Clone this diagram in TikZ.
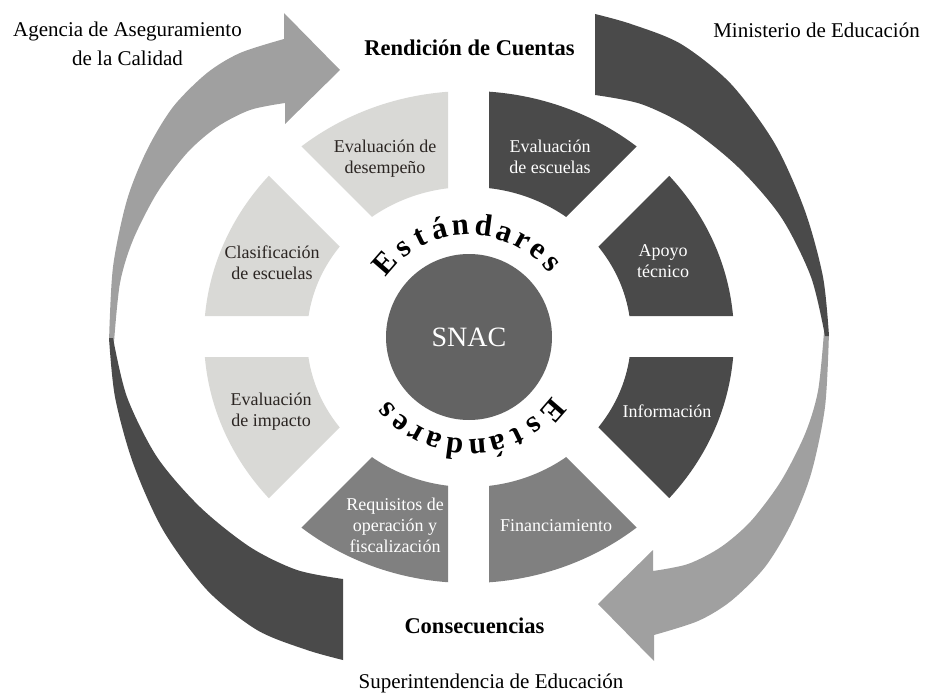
\documentclass[tikz,border=0pt]{standalone}
\usepackage{fontspec}
\setmainfont{Liberation Serif}
\definecolor{segLight}{HTML}{D9D9D6}
\definecolor{segDark}{HTML}{4A4A4A}
\definecolor{segMid}{HTML}{808080}
\definecolor{hubGray}{HTML}{636363}
\definecolor{arrowLight}{HTML}{A0A0A0}
\definecolor{arrowDark}{HTML}{4A4A4A}
\definecolor{inkDark}{HTML}{2B2522}
\begin{document}
\begin{tikzpicture}[x=1pt,y=-1pt,
  titletext/.style={font=\fontsize{21}{29}\selectfont, text=black, inner sep=0pt, align=center},
  boldtitle/.style={font=\bfseries\fontsize{22.5}{27}\selectfont, text=black, inner sep=0pt},
  seglabel/.style={font=\fontsize{18}{21}\selectfont, align=center, inner sep=0pt},
  onlight/.style={seglabel, text=inkDark},
  ondark/.style={seglabel, text=white},
  letterstyle/.style={font=\bfseries\fontsize{31}{31}\selectfont, text=black, anchor=base, inner sep=0pt},
  ring/.style={even odd rule}
]
\useasboundingbox (0,0) rectangle (927,693);
\coordinate (C) at (469,337);

% ---- big curved arrows (left side) ----
\fill[arrowLight]
  plot[smooth] coordinates {(109,342) (113,267) (127,200) (147,150) (173,107) (207,73) (240,53) (284,39)}
  -- (284,13) -- (340,70) -- (285,124)
  -- plot[smooth] coordinates {(285,103) (250,110) (217,127) (187,153) (157,193) (133,240) (120,283) (114,342)}
  -- cycle;
\fill[arrowDark]
  plot[smooth] coordinates {(109,338) (115,397) (133,463) (163,530) (207,590) (257,630) (307,650) (343,660)}
  -- (343,579)
  -- plot[smooth] coordinates {(343,579) (297,570) (250,547) (200,507) (157,457) (127,397) (113,338)}
  -- cycle;
% ---- big curved arrows (right side, point symmetric) ----
\begin{scope}[rotate around={180:(C)}]
\fill[arrowLight]
  plot[smooth] coordinates {(109,342) (113,267) (127,200) (147,150) (173,107) (207,73) (240,53) (284,39)}
  -- (284,13) -- (340,70) -- (285,124)
  -- plot[smooth] coordinates {(285,103) (250,110) (217,127) (187,153) (157,193) (133,240) (120,283) (114,342)}
  -- cycle;
\fill[arrowDark]
  plot[smooth] coordinates {(109,338) (115,397) (133,463) (163,530) (207,590) (257,630) (307,650) (343,660)}
  -- (343,579)
  -- plot[smooth] coordinates {(343,579) (297,570) (250,547) (200,507) (157,457) (127,397) (113,338)}
  -- cycle;
\end{scope}

% ---- ring segments ----
\begin{scope}
\clip (448,-100) -- (448,293) -- (55,-100) -- cycle;
\fill[segLight, ring] (C) ellipse [x radius=265, y radius=246] (C) ellipse [x radius=162, y radius=150];
\end{scope}
\begin{scope}
\clip (0,-93) -- (409,316) -- (0,316) -- cycle;
\fill[segLight, ring] (C) ellipse [x radius=265, y radius=246] (C) ellipse [x radius=162, y radius=150];
\end{scope}
\begin{scope}
\clip (489,-100) -- (489,294) -- (883,-100) -- cycle;
\fill[segDark, ring] (C) ellipse [x radius=265, y radius=246] (C) ellipse [x radius=162, y radius=150];
\end{scope}
\begin{scope}
\clip (529,316) -- (938,-93) -- (938,316) -- cycle;
\fill[segDark, ring] (C) ellipse [x radius=265, y radius=246] (C) ellipse [x radius=162, y radius=150];
\end{scope}
\begin{scope}
\clip (0,357) -- (410,357) -- (0,767) -- cycle;
\fill[segLight, ring] (C) ellipse [x radius=265, y radius=246] (C) ellipse [x radius=162, y radius=150];
\end{scope}
\begin{scope}
\clip (448,381) -- (448,800) -- (29,800) -- cycle;
\fill[segMid, ring] (C) ellipse [x radius=265, y radius=246] (C) ellipse [x radius=162, y radius=150];
\end{scope}
\begin{scope}
\clip (528,357) -- (938,357) -- (938,767) -- cycle;
\fill[segDark, ring] (C) ellipse [x radius=265, y radius=246] (C) ellipse [x radius=162, y radius=150];
\end{scope}
\begin{scope}
\clip (489,380) -- (909,800) -- (489,800) -- cycle;
\fill[segMid, ring] (C) ellipse [x radius=265, y radius=246] (C) ellipse [x radius=162, y radius=150];
\end{scope}

% ---- hub ----
\node[circle, fill=hubGray, minimum size=166pt, inner sep=0pt, text=white,
      font=\fontsize{28}{28}\selectfont] (snac) at (C) {SNAC};

% ---- curved "Estándares" ----
\foreach \ch/\ang [count=\i] in {E/139, s/126.5, t/116, á/105.5, n/94.5, d/82.5, a/71, r/61, e/51.5, s/41.5}{
  \node[letterstyle, rotate=\ang-90] (esttop\i) at ([shift={(-\ang:102)}]C) {\ch};
  \node[letterstyle, rotate=\ang+90] (estbot\i) at ([shift={(180-\ang:102)}]C) {\ch};
}

% ---- segment labels ----
\node[onlight] (desempeno) at (385,158.3) {Evaluación de\\desempeño};
\node[ondark]  (evalesc)   at (550,156.4) {Evaluación\\de escuelas};
\node[onlight] (clasif)    at (272,262.4) {Clasificación\\de escuelas};
\node[ondark]  (apoyo)     at (663,261.4) {Apoyo\\técnico};
\node[onlight] (impacto)   at (271,411.4) {Evaluación\\de impacto};
\node[ondark, anchor=base] (info) at (667,417) {Información};
\node[ondark]  (requisitos) at (395,524.9) {Requisitos de\\operación y\\fiscalización};
\node[ondark, anchor=base] (financ) at (556,531) {Financiamiento};

% ---- titles ----
\node[titletext] (agencia) at (127.5,43.5) {Agencia de Aseguramiento\\de la Calidad};
\node[titletext, anchor=base] (ministerio) at (816.5,38) {Ministerio de Educación};
\node[boldtitle, anchor=base] (rendicion) at (469.5,56) {Rendición de Cuentas};
\node[boldtitle, anchor=base] (consec) at (474.5,633) {Consecuencias};
\node[titletext, anchor=base] (superint) at (491,688) {Superintendencia de Educación};
\end{tikzpicture}
\end{document}
